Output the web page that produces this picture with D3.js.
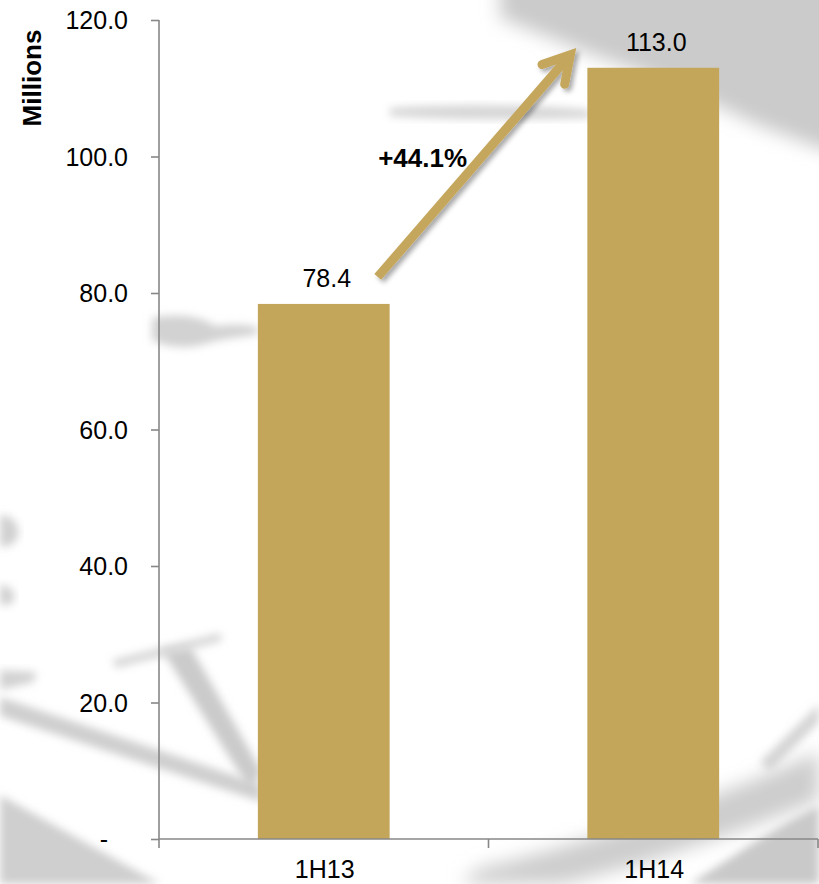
<!DOCTYPE html>
<html>
<head>
<meta charset="utf-8">
<script src="https://cdn.jsdelivr.net/npm/d3@7/dist/d3.min.js"></script>
<style>
  html, body { margin: 0; padding: 0; background: #ffffff; }
  svg { display: block; }
  text { font-family: "Liberation Sans", Arial, Helvetica, sans-serif; fill: #000; }
</style>
</head>
<body>
<svg id="chart" width="819" height="884"></svg>
<script>
// Revenue by half-year, in millions
const categories = ["1H13", "1H14"];
const values = [78.4, 113.0];
const yTicks = [0, 20, 40, 60, 80, 100, 120];
const yTitle = "Millions";
const growthLabel = "+44.1%";

const W = 819, H = 884;
const plot = { left: 159, right: 818, top: 20, bottom: 839 };
const gold = "#c4a65b";
const axisGrey = "#878787";

const svg = d3.select("#chart");
const defs = svg.append("defs");

// soft watermark backdrop
function blurFilter(id, sd) {
  const f = defs.append("filter").attr("id", id)
    .attr("x", "-30%").attr("y", "-30%").attr("width", "160%").attr("height", "160%");
  f.append("feGaussianBlur").attr("stdDeviation", sd);
}
blurFilter("soft", 4);
blurFilter("softMid", 9);

const shadow = defs.append("filter").attr("id", "arrowShadow")
  .attr("x", "-20%").attr("y", "-20%").attr("width", "140%").attr("height", "140%");
shadow.append("feDropShadow").attr("dx", 3).attr("dy", 3).attr("stdDeviation", 2.5)
  .attr("flood-color", "#000").attr("flood-opacity", 0.35);

const backdrop = svg.append("g").attr("class", "backdrop");
const shapes = [
  // upper-right haze
  { d: "M500,-40 L860,-40 L860,160 L819,148 L760,126 L700,98 L640,72 L590,54 L545,36 L500,18 Z", fill: "#cbcbcb", f: "softMid" },
  // smear behind the arrow
  { d: "M390,108 C450,104 530,104 590,110 L590,118 C520,120 450,120 390,116 Z", fill: "#d6d6d6", f: "soft" },
  // smear by the axis near 75
  { d: "M152,318 C180,312 205,318 215,326 C235,324 250,324 258,328 L258,334 C240,338 222,338 205,344 C185,350 162,346 152,340 Z", fill: "#d2d2d2", f: "soft" },
  // left-edge blobs
  { d: "M0,515 C12,515 20,525 18,535 C16,545 6,548 0,546 Z", fill: "#d0d0d0", f: "soft" },
  { d: "M0,585 C10,585 16,592 14,600 C10,606 4,606 0,604 Z", fill: "#d0d0d0", f: "soft" },
  { d: "M0,670 L36,672 L34,682 L0,690 Z", fill: "#d2d2d2", f: "soft" },
  // numeral strokes in the lower left
  { d: "M0,697 L260,784 L262,802 L0,716 Z", fill: "#cfcfcf", f: "soft" },
  { d: "M162,650 L190,646 L262,772 L250,790 Z", fill: "#cbcbcb", f: "soft" },
  { d: "M112,660 L220,633 L222,641 L116,668 Z", fill: "#d6d6d6", f: "soft" },
  { d: "M0,795 L160,884 L0,884 Z", fill: "#cfcfcf", f: "soft" },
  // lower-right bands
  { d: "M460,884 L480,868 C580,845 700,805 819,752 L819,800 C720,840 620,872 560,884 Z", fill: "#cdcdcd", f: "softMid" },
  { d: "M690,884 C740,852 780,824 819,806 L819,884 Z", fill: "#c9c9c9", f: "soft" },
  { d: "M760,762 L819,704 L819,722 L770,772 Z", fill: "#d4d4d4", f: "soft" }
];
backdrop.selectAll("path").data(shapes).join("path")
  .attr("d", s => s.d)
  .attr("fill", s => s.fill)
  .attr("filter", s => `url(#${s.f})`);

// scales
const x = d3.scaleBand()
  .domain(categories)
  .range([plot.left, plot.right])
  .paddingInner(0.6)
  .paddingOuter(0.3);

const y = d3.scaleLinear()
  .domain([0, 120])
  .range([plot.bottom, plot.top]);

// bars
svg.append("g").selectAll("rect")
  .data(categories)
  .join("rect")
  .attr("x", (c) => x(c))
  .attr("y", (c, i) => y(values[i]))
  .attr("width", x.bandwidth())
  .attr("height", (c, i) => y(0) - y(values[i]))
  .attr("fill", gold);

// y axis
const yAxis = svg.append("g")
  .attr("transform", `translate(${plot.left},0)`)
  .call(d3.axisLeft(y)
    .tickValues(yTicks)
    .tickSize(8)
    .tickPadding(23)
    .tickFormat(d => d === 0 ? "-" : d3.format(".1f")(d)));
yAxis.select(".domain").attr("stroke", axisGrey).attr("stroke-width", 1.6)
  .attr("d", `M0,${plot.top}V${plot.bottom}`);
yAxis.selectAll(".tick line").attr("stroke", axisGrey).attr("stroke-width", 1.6);
yAxis.selectAll(".tick text")
  .attr("font-size", 25)
  .attr("fill", "#000")
  .attr("font-family", null)
  .attr("dy", "0.35em");
yAxis.selectAll(".tick").filter(d => d === 0).select("text").attr("dx", -20);

// x axis with ticks on the category boundaries
const xAxis = svg.append("g").attr("transform", `translate(0,${plot.bottom})`);
xAxis.append("line")
  .attr("x1", plot.left).attr("x2", plot.right)
  .attr("stroke", axisGrey).attr("stroke-width", 1.6);
const step = x.step();
const boundaries = [plot.left].concat(categories.map(c => x(c) + x.bandwidth() + (step - x.bandwidth()) / 2));
boundaries[boundaries.length - 1] = plot.right;
xAxis.selectAll("line.tk").data(boundaries).join("line")
  .attr("class", "tk")
  .attr("x1", d => d).attr("x2", d => d)
  .attr("y1", 0).attr("y2", 9)
  .attr("stroke", axisGrey).attr("stroke-width", 1.6);
xAxis.selectAll("text").data(categories).join("text")
  .attr("x", c => x(c) + x.bandwidth() / 2 + 1)
  .attr("y", 39)
  .attr("text-anchor", "middle")
  .attr("font-size", 25)
  .text(c => c);

// y title
svg.append("text")
  .attr("transform", "translate(41,78) rotate(-90)")
  .attr("text-anchor", "middle")
  .attr("font-size", 26)
  .attr("font-weight", "bold")
  .text(yTitle);

// value labels
svg.append("g").selectAll("text")
  .data(categories)
  .join("text")
  .attr("x", c => x(c) + x.bandwidth() / 2 + 3)
  .attr("y", (c, i) => y(values[i]) - 17)
  .attr("text-anchor", "middle")
  .attr("font-size", 25)
  .text((c, i) => d3.format(".1f")(values[i]));

// growth arrow between the two bars
const start = [x(categories[0]) + x.bandwidth() / 2 + 54, y(values[0]) - 27];
const end = [x(categories[1]) - 17, y(values[1]) - 13];
const ang = Math.atan2(start[1] - end[1], start[0] - end[0]);
const armLen = 30, spread = Math.PI / 6;
const arm1 = [end[0] + armLen * Math.cos(ang + spread), end[1] + armLen * Math.sin(ang + spread)];
const arm2 = [end[0] + armLen * Math.cos(ang - spread), end[1] + armLen * Math.sin(ang - spread)];

const arrow = svg.append("g").attr("filter", "url(#arrowShadow)");
arrow.append("line")
  .attr("x1", start[0]).attr("y1", start[1])
  .attr("x2", end[0] - 2 * Math.cos(ang + Math.PI)).attr("y2", end[1] - 2 * Math.sin(ang + Math.PI))
  .attr("stroke", gold).attr("stroke-width", 9).attr("stroke-linecap", "butt");
arrow.append("path")
  .attr("d", `M${arm1[0]},${arm1[1]}L${end[0]},${end[1]}L${arm2[0]},${arm2[1]}`)
  .attr("fill", "none")
  .attr("stroke", gold).attr("stroke-width", 9)
  .attr("stroke-linecap", "round").attr("stroke-linejoin", "miter");

const mid = [(start[0] + end[0]) / 2, (start[1] + end[1]) / 2];
svg.append("text")
  .attr("x", mid[0] - 7)
  .attr("y", mid[1] + 1)
  .attr("text-anchor", "end")
  .attr("font-size", 26)
  .attr("font-weight", "bold")
  .text(growthLabel);
</script>
</body>
</html>
